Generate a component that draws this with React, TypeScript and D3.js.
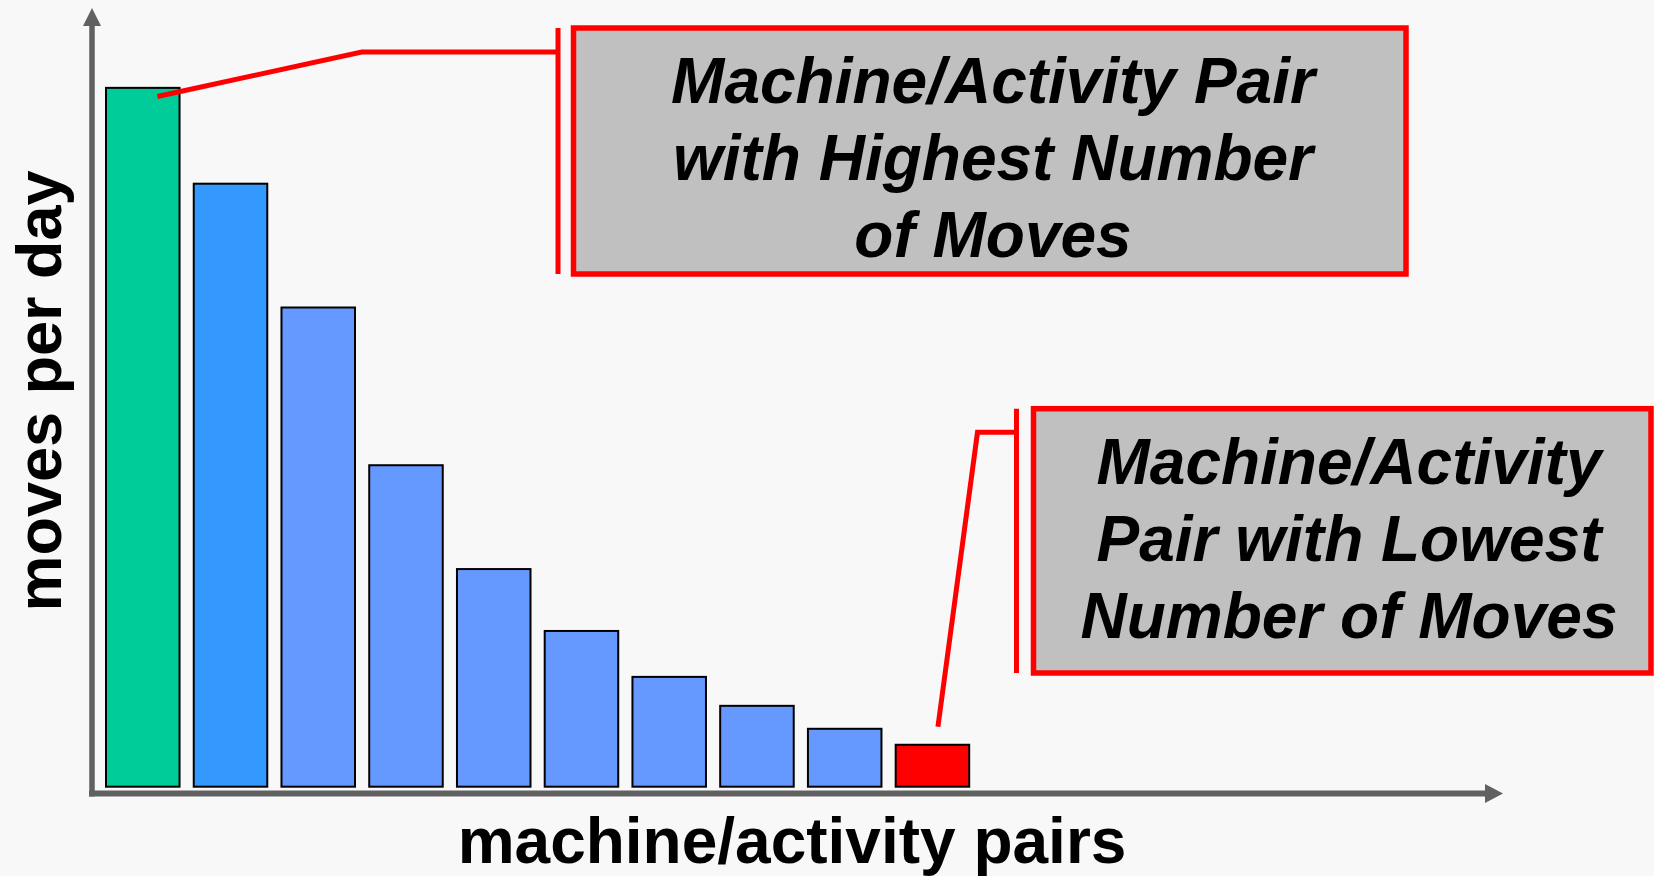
import React, { useRef, useEffect } from "react";
import * as d3 from "d3";

const chart_width = 1654;
const chart_height = 876;

// bars, sorted high to low
const pairs: string[] = ["p1", "p2", "p3", "p4", "p5", "p6", "p7", "p8", "p9", "p10"];
const movesPerDay: number[] = [350, 302, 240, 161, 109, 78, 55, 40.5, 29, 21];
const yMax = 390;

const xTitle = "machine/activity pairs";
const yTitle = "moves per day";
const highLabel: string[] = ["Machine/Activity Pair", "with Highest Number", "of Moves"];
const lowLabel: string[] = ["Machine/Activity", "Pair with Lowest", "Number of Moves"];

const font = "'Liberation Sans', Arial, Helvetica, sans-serif";
const axisColor = "#616161";
const red = "#ff0000";

const App: React.FC = () => {
  const d3Container = useRef<SVGSVGElement | null>(null);

  useEffect(() => {
    if (!d3Container.current) return;
    const svg = d3.select(d3Container.current);
    svg.selectAll("*").remove();

    svg
      .append("rect")
      .attr("width", chart_width)
      .attr("height", chart_height)
      .attr("fill", "#f8f8f8");

    const x_scale = d3
      .scaleBand<string>()
      .domain(pairs)
      .range([106, 969.2])
      .paddingInner(0.162)
      .paddingOuter(0);

    const y_scale = d3.scaleLinear().domain([0, yMax]).range([786.7, 8]);

    // axes (arrows only, no ticks)
    const axisX0 = 92;
    const axisY0 = 793.5;
    const arrowEnd = 1503;
    svg
      .append("line")
      .attr("x1", axisX0)
      .attr("x2", axisX0)
      .attr("y1", axisY0 + 3)
      .attr("y2", y_scale(yMax) + 18)
      .attr("stroke", axisColor)
      .attr("stroke-width", 5.5);
    svg
      .append("path")
      .attr(
        "d",
        `M${axisX0 - 9},${y_scale(yMax) + 18} L${axisX0},${y_scale(yMax)} L${axisX0 + 9},${y_scale(yMax) + 18} Z`
      )
      .attr("fill", axisColor);
    svg
      .append("line")
      .attr("x1", axisX0 - 3)
      .attr("x2", arrowEnd - 18)
      .attr("y1", axisY0)
      .attr("y2", axisY0)
      .attr("stroke", axisColor)
      .attr("stroke-width", 6);
    svg
      .append("path")
      .attr("d", `M${arrowEnd - 18},${axisY0 - 9.5} L${arrowEnd},${axisY0} L${arrowEnd - 18},${axisY0 + 9.5} Z`)
      .attr("fill", axisColor);

    // bars
    const last = pairs.length - 1;
    svg
      .selectAll("rect.bar")
      .data(movesPerDay)
      .enter()
      .append("rect")
      .attr("class", "bar")
      .attr("x", (_d, i) => x_scale(pairs[i]) as number)
      .attr("y", (d) => y_scale(d))
      .attr("width", x_scale.bandwidth())
      .attr("height", (d) => y_scale(0) - y_scale(d))
      .attr("fill", (_d, i) => (i === 0 ? "#00cc99" : i === 1 ? "#3399ff" : i === last ? red : "#6699ff"))
      .attr("stroke", "#000")
      .attr("stroke-width", 2);

    // axis titles
    svg
      .append("text")
      .attr("x", 792)
      .attr("y", 863)
      .attr("text-anchor", "middle")
      .attr("font-family", font)
      .attr("font-weight", "bold")
      .attr("font-size", 64)
      .attr("fill", "#000")
      .text(xTitle);
    svg
      .append("text")
      .attr("transform", "translate(61,391) rotate(-90)")
      .attr("text-anchor", "middle")
      .attr("font-family", font)
      .attr("font-weight", "bold")
      .attr("font-size", 63)
      .attr("fill", "#000")
      .text(yTitle);

    // callout helper
    const callout = (
      box: [number, number, number, number],
      bracketX: number,
      leader: [number, number][],
      lines: string[],
      cx: number,
      firstBaseline: number
    ) => {
      svg
        .append("path")
        .attr("d", d3.line()(leader))
        .attr("fill", "none")
        .attr("stroke", red)
        .attr("stroke-width", 5);
      svg
        .append("line")
        .attr("x1", bracketX)
        .attr("x2", bracketX)
        .attr("y1", box[1])
        .attr("y2", box[3])
        .attr("stroke", red)
        .attr("stroke-width", 5);
      svg
        .append("rect")
        .attr("x", box[0])
        .attr("y", box[1])
        .attr("width", box[2] - box[0])
        .attr("height", box[3] - box[1])
        .attr("fill", "#c0c0c0")
        .attr("stroke", red)
        .attr("stroke-width", 5.5);
      svg
        .append("g")
        .selectAll("text")
        .data(lines)
        .enter()
        .append("text")
        .attr("x", cx)
        .attr("y", (_d, i) => firstBaseline + i * 77)
        .attr("text-anchor", "middle")
        .attr("font-family", font)
        .attr("font-weight", "bold")
        .attr("font-style", "italic")
        .attr("font-size", 64)
        .attr("fill", "#000")
        .text((d) => d);
    };

    const b0 = x_scale(pairs[0]) as number;
    callout(
      [573.5, 28, 1406, 274],
      558,
      [
        [b0 + 0.7 * x_scale.bandwidth(), y_scale(movesPerDay[0]) + 8.7],
        [361.7, 52],
        [558, 52],
      ],
      highLabel,
      993,
      103
    );

    const bl = x_scale(pairs[last]) as number;
    callout(
      [1033.5, 408.7, 1651, 673],
      1016.5,
      [
        [bl + x_scale.bandwidth() / 2 + 5.5, y_scale(movesPerDay[last]) - 18],
        [977.5, 432.3],
        [1016.5, 432.3],
      ],
      lowLabel,
      1349,
      483.5
    );
  }, []);

  return (
    <svg
      ref={d3Container}
      width={chart_width}
      height={chart_height}
      style={{ position: "fixed", left: 0, top: 0, display: "block" }}
    />
  );
};

export default App;
